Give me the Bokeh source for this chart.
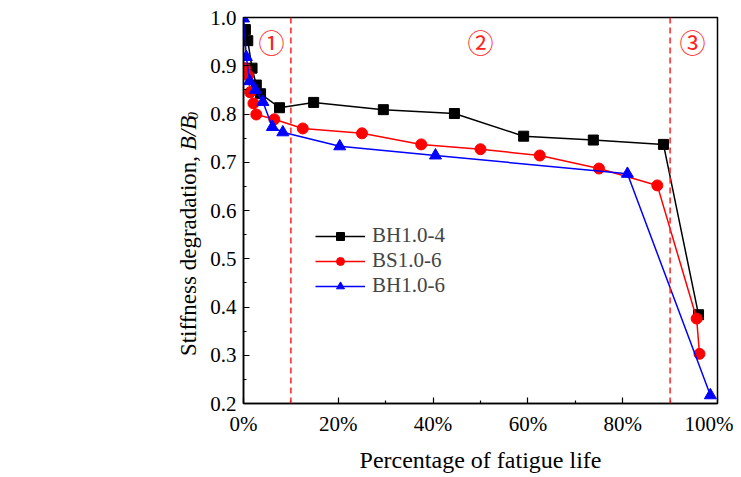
import math
from bokeh.plotting import figure
from bokeh.layouts import row
from bokeh.models import (Range1d, FixedTicker, PrintfTickFormatter, Span,
                          Legend, LegendItem)
from bokeh.core.properties import value
from bokeh.embed import file_html
from bokeh.resources import INLINE

# ---- data ----
bh4_x = [0.4, 0.9, 1.8, 2.7, 3.6, 7.6, 14.8, 29.5, 44.5, 59.1, 73.8, 88.6, 96.0]
bh4_y = [0.975, 0.952, 0.895, 0.86, 0.842, 0.813, 0.824, 0.809, 0.801, 0.754, 0.746, 0.737, 0.384]

bs6_x = [0.3, 1.0, 1.4, 2.1, 2.7, 6.5, 12.5, 25.0, 37.5, 50.0, 62.5, 75.0, 87.3, 95.6, 96.2]
bs6_y = [0.895, 0.88, 0.845, 0.822, 0.799, 0.789, 0.77, 0.76, 0.737, 0.727, 0.714, 0.687, 0.652, 0.376, 0.303]

bh6_x = [0.0, 0.6, 1.3, 2.5, 4.1, 6.1, 8.3, 20.3, 40.5, 81.0, 98.5]
bh6_y = [0.998, 0.918, 0.868, 0.85, 0.825, 0.773, 0.762, 0.733, 0.714, 0.676, 0.217]

series_names = ["BH1.0-4", "BS1.0-6", "BH1.0-6"]
x_ticks = [0, 20, 40, 60, 80, 100]
x_minor = [10, 30, 50, 70, 90]
y_ticks = [0.2, 0.3, 0.4, 0.5, 0.6, 0.7, 0.8, 0.9, 1.0]
y_minor = [0.25, 0.35, 0.45, 0.55, 0.65, 0.75, 0.85, 0.95]
stage_bounds = [10, 90]
stage_labels = ["\u2460", "\u2461", "\u2462"]
stage_x = [5.9, 50.0, 94.7]
stage_y = [0.95, 0.95, 0.95]
ylabel_main = "Stiffness degradation, "
ylabel_ital = "B/B"
ylabel_sub = "0"

SERIF = "Liberation Serif"
H = 477
LW = 206          # width of the strip holding the y-axis title

# ---- strip with the composite y-axis title ----
lab = figure(width=LW, height=H, output_backend="svg", toolbar_location=None,
             x_range=Range1d(0, LW), y_range=Range1d(0, H),
             x_axis_type=None, y_axis_type=None, min_border=0)
lab.grid.visible = False
lab.outline_line_color = None
lab.background_fill_color = "white"
lab.border_fill_color = "white"

base_x = 188
split_y = 313
lab.text(x=[base_x], y=[split_y], text=[ylabel_main], angle=math.pi / 2,
         text_font=value(SERIF), text_font_size="23px", text_align="right",
         text_baseline="alphabetic", text_color="black")
lab.text(x=[base_x], y=[split_y], text=[ylabel_ital], angle=math.pi / 2,
         text_font=value(SERIF), text_font_size="23px", text_font_style="italic",
         text_align="left", text_baseline="alphabetic", text_color="black")
lab.text(x=[base_x + 4], y=[split_y + 38], text=[ylabel_sub], angle=math.pi / 2,
         text_font=value(SERIF), text_font_size="15px", text_font_style="italic",
         text_align="left", text_baseline="alphabetic", text_color="black")

# ---- main chart ----
p = figure(width=733 - LW, height=H, output_backend="svg", toolbar_location=None,
           x_range=Range1d(0, 100), y_range=Range1d(0.2, 1.0),
           min_border_left=243 - LW, min_border_right=16, min_border_top=17,
           min_border_bottom=74)
p.grid.visible = False
p.outline_line_color = "black"
p.outline_line_width = 1.5
p.background_fill_color = "white"
p.border_fill_color = "white"

for ax in (p.xaxis[0], p.yaxis[0]):
    ax.axis_line_width = 1.5
    ax.major_tick_in = 6
    ax.major_tick_out = 0
    ax.minor_tick_in = 3
    ax.minor_tick_out = 0
    ax.major_tick_line_width = 1.2
    ax.minor_tick_line_width = 1.2
    ax.major_label_text_font = SERIF
    ax.major_label_text_font_size = "21px"
    ax.major_label_text_color = "black"

p.xaxis.ticker = FixedTicker(ticks=x_ticks, minor_ticks=x_minor)
p.xaxis.formatter = PrintfTickFormatter(format="%d%%")
p.xaxis.major_label_standoff = 8
p.xaxis.axis_label = "Percentage of fatigue life"
p.xaxis.axis_label_text_font = SERIF
p.xaxis.axis_label_text_font_style = "normal"
p.xaxis.axis_label_text_font_size = "24px"
p.xaxis.axis_label_text_color = "black"
p.xaxis.axis_label_standoff = 8

p.yaxis.ticker = FixedTicker(ticks=y_ticks, minor_ticks=y_minor)
p.yaxis.formatter = PrintfTickFormatter(format="%.1f")
p.yaxis.major_label_standoff = 7

for b in stage_bounds:
    p.add_layout(Span(location=b, dimension="height", line_color="#ff2020",
                      line_width=1.5, line_dash="6 4"))

p.text(x=stage_x, y=stage_y, text=stage_labels, text_color="#ff2020",
       text_font=value("Noto Sans CJK JP"), text_font_size="26px",
       text_align="center", text_baseline="middle")

l1 = p.line(bh4_x, bh4_y, line_color="black", line_width=1.5)
m1 = p.scatter(bh4_x, bh4_y, marker="square", size=10, fill_color="black", line_color="black")
l2 = p.line(bs6_x, bs6_y, line_color="#ff0000", line_width=1.5)
m2 = p.scatter(bs6_x, bs6_y, marker="circle", size=11, fill_color="#ff0000", line_color="#ff0000")
l3 = p.line(bh6_x, bh6_y, line_color="#0000ff", line_width=1.5)
m3 = p.scatter(bh6_x, bh6_y, marker="triangle", size=12, fill_color="#0000ff", line_color="#0000ff")

legend = Legend(items=[LegendItem(label=series_names[0], renderers=[l1, m1]),
                       LegendItem(label=series_names[1], renderers=[l2, m2]),
                       LegendItem(label=series_names[2], renderers=[l3, m3])],
                location=(72, 105), border_line_color=None, background_fill_alpha=0,
                padding=0, margin=0, spacing=0, glyph_width=50, glyph_height=20,
                label_height=20, label_standoff=7, label_text_font=SERIF,
                label_text_font_size="21px")
p.add_layout(legend, "center")

layout = row(lab, p)
open("out.html", "w").write(file_html(layout, INLINE))
